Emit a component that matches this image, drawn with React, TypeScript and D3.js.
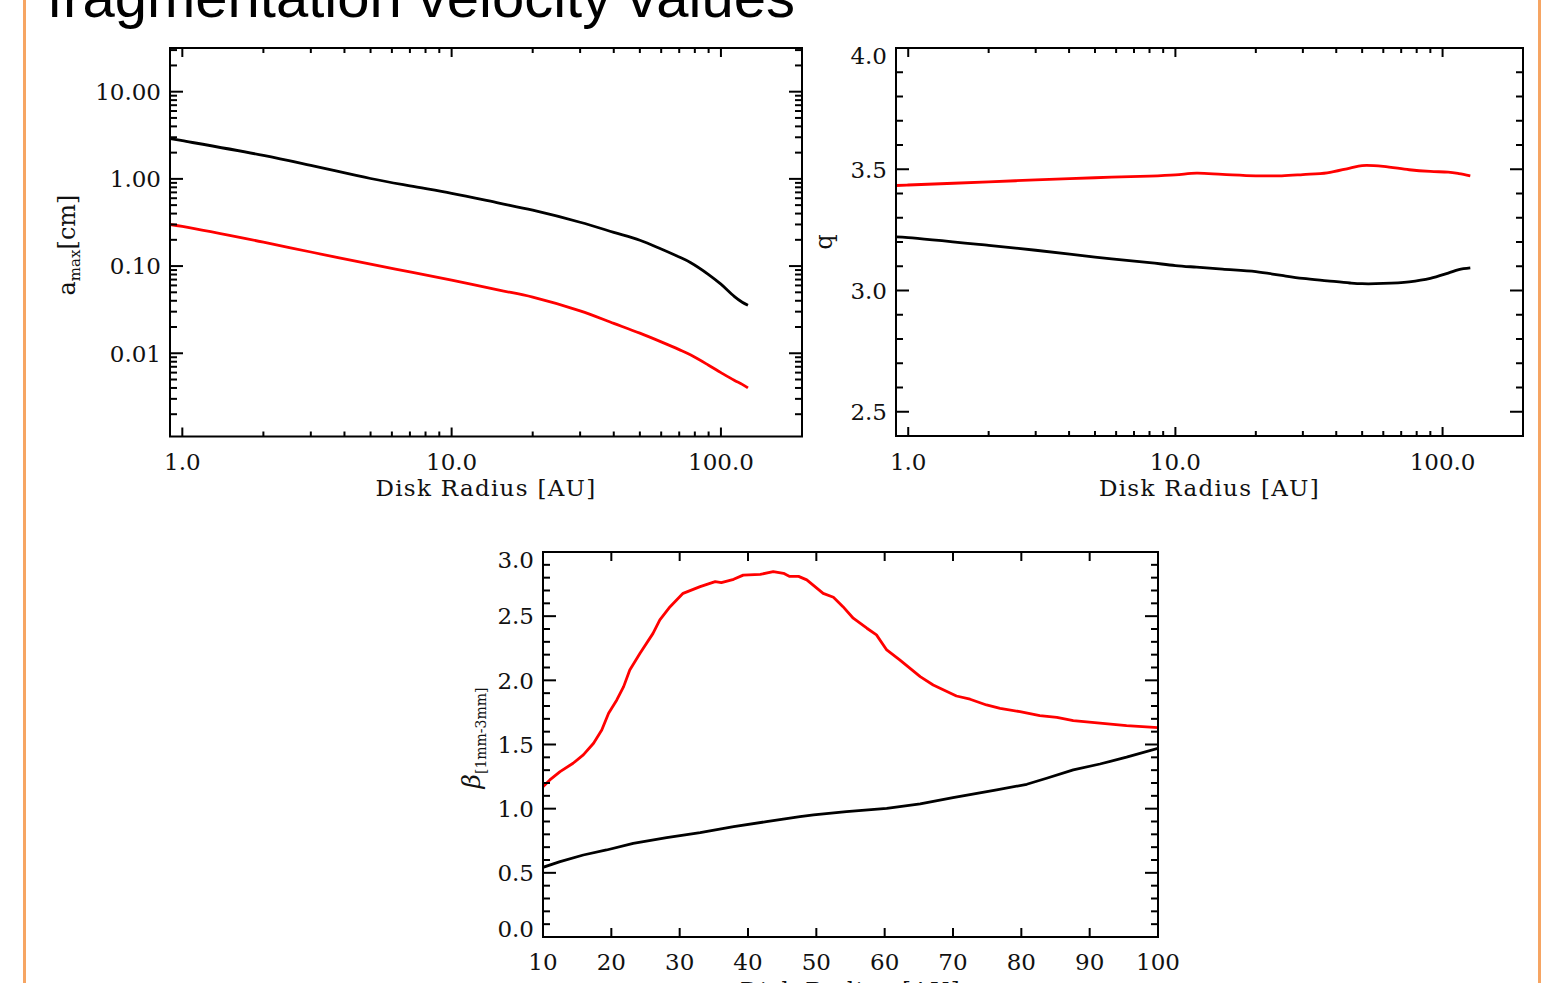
import React from 'react';
import * as d3 from 'd3';

const W = 1544;
const H = 983;

const TITLE = 'fragmentation velocity values';
const X_TITLE = 'Disk Radius [AU]';

// Panel 1: a_max vs radius (log-log)
const amaxRadius = [0.9, 1, 2, 3, 5, 7, 10, 15, 20, 30, 40, 50, 60, 70, 77, 90, 100, 112, 120, 126];
const amaxBlack = [2.9, 2.74, 1.86, 1.43, 1.01, 0.83, 0.683, 0.527, 0.437, 0.318, 0.244, 0.198, 0.157, 0.127, 0.11, 0.08, 0.062, 0.045, 0.0385, 0.0355];
const amaxRed = [0.3, 0.285, 0.188, 0.145, 0.105, 0.0857, 0.069, 0.053, 0.044, 0.0306, 0.022, 0.017, 0.0135, 0.011, 0.0096, 0.0073, 0.006, 0.0049, 0.0044, 0.004];
const amaxTicks = [0.01, 0.1, 1, 10];
const amaxTickLabels = ['0.01', '0.10', '1.00', '10.00'];

const logRadiusTicks = [1, 10, 100];
const logRadiusLabels = ['1.0', '10.0', '100.0'];

// Panel 2: q vs radius
const qRadius = [0.9, 1, 2, 3, 5, 8, 10, 12, 15, 20, 25, 30, 37, 45, 50, 60, 75, 90, 105, 115, 127];
const qRed = [3.433, 3.435, 3.448, 3.456, 3.465, 3.472, 3.477, 3.484, 3.479, 3.473, 3.473, 3.478, 3.485, 3.505, 3.515, 3.512, 3.498, 3.491, 3.488, 3.482, 3.473];
const qBlack = [3.221, 3.218, 3.186, 3.166, 3.138, 3.115, 3.103, 3.096, 3.088, 3.078, 3.062, 3.05, 3.04, 3.031, 3.028, 3.029, 3.036, 3.05, 3.072, 3.086, 3.093];
const qTicks = [2.5, 3.0, 3.5, 4.0];
const qTickLabels = ['2.5', '3.0', '3.5', '4.0'];

// Panel 3: beta vs radius (linear)
const betaRadiusRed = [10.0, 11.0, 12.5, 14.4, 15.9, 17.4, 18.6, 19.6, 20.8, 21.8, 22.7, 24.2, 26.1, 27.1, 28.6, 30.5, 33.0, 35.2, 36.1, 37.9, 39.3, 41.8, 43.7, 45.2, 46.1, 47.4, 48.6, 51.0, 52.5, 53.9, 55.4, 57.4, 58.8, 60.3, 62.2, 65.2, 67.1, 70.5, 72.5, 74.9, 76.9, 79.8, 82.7, 85.2, 87.6, 91.5, 95.4, 100];
const betaRed = [1.171, 1.224, 1.289, 1.354, 1.419, 1.51, 1.613, 1.744, 1.847, 1.951, 2.081, 2.211, 2.366, 2.471, 2.574, 2.678, 2.73, 2.769, 2.761, 2.787, 2.82, 2.826, 2.847, 2.834, 2.81, 2.81, 2.783, 2.678, 2.647, 2.574, 2.484, 2.406, 2.354, 2.237, 2.159, 2.029, 1.964, 1.878, 1.853, 1.808, 1.782, 1.756, 1.725, 1.712, 1.686, 1.666, 1.647, 1.631];
const betaRadiusBlack = [10, 12.5, 15.9, 19.3, 23.2, 28.1, 33.0, 37.9, 42.7, 47.6, 49.6, 54.4, 60.3, 65.2, 70.0, 76.4, 80.8, 83.7, 87.6, 91.5, 95.4, 100];
const betaBlack = [0.543, 0.587, 0.639, 0.678, 0.73, 0.774, 0.813, 0.86, 0.899, 0.938, 0.951, 0.977, 1.003, 1.037, 1.086, 1.146, 1.19, 1.237, 1.302, 1.348, 1.401, 1.471];
const betaTicks = [0, 0.5, 1, 1.5, 2, 2.5, 3];
const betaTickLabels = ['0.0', '0.5', '1.0', '1.5', '2.0', '2.5', '3.0'];
const betaXTicks = [10, 20, 30, 40, 50, 60, 70, 80, 90, 100];
const betaXLabels = ['10', '20', '30', '40', '50', '60', '70', '80', '90', '100'];

const LABEL_FONT = '"DejaVu Serif", serif';
const LABEL_SIZE = 23;

type Box = { x0: number; x1: number; y0: number; y1: number };

function logMinor(domain: [number, number]) {
  const out: number[] = [];
  for (let e = -4; e <= 3; e++) {
    for (let k = 2; k <= 9; k++) {
      const v = k * Math.pow(10, e);
      if (v > domain[0] * 1.0001 && v < domain[1] * 0.9999) out.push(v);
    }
  }
  return out;
}

function linMinor(domain: [number, number], step: number, majorStep: number) {
  const out: number[] = [];
  const n0 = Math.ceil(domain[0] / step - 1e-6);
  const n1 = Math.floor(domain[1] / step + 1e-6);
  for (let i = n0; i <= n1; i++) {
    const v = i * step;
    const r = v / majorStep;
    if (Math.abs(r - Math.round(r)) > 1e-6) out.push(v);
  }
  return out;
}

function Panel(props: {
  box: Box;
  x: any;
  y: any;
  xMajor: number[];
  xLabels: string[];
  xMinor: number[];
  yMajor: number[];
  yLabels: string[];
  yMinor: number[];
  series: { xs: number[]; ys: number[]; color: string; curve: any }[];
  xLabelY: number;
  xTitleY: number;
  tl: { xMaj: number; xMin: number; yMaj: number; yMin: number };
}) {
  const { box, x, y, tl } = props;
  const ticks: React.ReactNode[] = [];
  const tk = (k: string, x1: number, y1: number, x2: number, y2: number) => (
    <line key={k} x1={x1} y1={y1} x2={x2} y2={y2} stroke="#000" strokeWidth={2} />
  );
  props.xMajor.forEach((v, i) => {
    const px = x(v);
    ticks.push(tk('xb' + i, px, box.y1, px, box.y1 - tl.xMaj));
    ticks.push(tk('xt' + i, px, box.y0, px, box.y0 + tl.xMaj));
  });
  props.xMinor.forEach((v, i) => {
    const px = x(v);
    ticks.push(tk('xmb' + i, px, box.y1, px, box.y1 - tl.xMin));
    ticks.push(tk('xmt' + i, px, box.y0, px, box.y0 + tl.xMin));
  });
  props.yMajor.forEach((v, i) => {
    const py = y(v);
    ticks.push(tk('yl' + i, box.x0, py, box.x0 + tl.yMaj, py));
    ticks.push(tk('yr' + i, box.x1, py, box.x1 - tl.yMaj, py));
  });
  props.yMinor.forEach((v, i) => {
    const py = y(v);
    ticks.push(tk('yml' + i, box.x0, py, box.x0 + tl.yMin, py));
    ticks.push(tk('ymr' + i, box.x1, py, box.x1 - tl.yMin, py));
  });
  return (
    <g>
      <defs>
        <clipPath id={'clip' + box.x0}>
          <rect x={box.x0} y={box.y0} width={box.x1 - box.x0} height={box.y1 - box.y0} />
        </clipPath>
      </defs>
      <g clipPath={`url(#clip${box.x0})`}>
        {props.series.map((s, i) => {
          const pts = s.xs.map((xv, j) => [x(xv), y(s.ys[j])] as [number, number]);
          const path = d3.line().curve(s.curve)(pts) || '';
          return <path key={i} d={path} fill="none" stroke={s.color} strokeWidth={2.8} strokeLinejoin="round" />;
        })}
      </g>
      {ticks}
      <rect x={box.x0} y={box.y0} width={box.x1 - box.x0} height={box.y1 - box.y0} fill="none" stroke="#000" strokeWidth={2} />
      {props.xMajor.map((v, i) =>
        props.xLabels[i] ? (
          <text key={'xl' + i} x={x(v)} y={props.xLabelY} textAnchor="middle" fontFamily={LABEL_FONT} fontSize={LABEL_SIZE} fill="#111">
            {props.xLabels[i]}
          </text>
        ) : null
      )}
      {props.yMajor.map((v, i) => {
        const py = Math.max(box.y0 + 8, Math.min(box.y1 - 8, y(v)));
        return (
          <text key={'ylb' + i} x={box.x0 - 9} y={py} dy="0.36em" textAnchor="end" fontFamily={LABEL_FONT} fontSize={LABEL_SIZE} fill="#111">
            {props.yLabels[i]}
          </text>
        );
      })}
      <text x={(box.x0 + box.x1) / 2} y={props.xTitleY} textAnchor="middle" fontFamily={LABEL_FONT} fontSize={LABEL_SIZE} letterSpacing={1.3} fill="#111">
        {X_TITLE}
      </text>
    </g>
  );
}

export default function App() {
  const b1: Box = { x0: 170, x1: 802, y0: 48, y1: 436.5 };
  const b2: Box = { x0: 896, x1: 1523, y0: 48, y1: 436 };
  const b3: Box = { x0: 543, x1: 1158, y0: 552, y1: 937 };

  const xDom: [number, number] = [0.9, 200];
  const x1 = d3.scaleLog().domain(xDom).range([b1.x0, b1.x1]);
  const y1Dom: [number, number] = [0.00111, 31.7];
  const y1 = d3.scaleLog().domain(y1Dom).range([b1.y1, b1.y0]);
  const x2 = d3.scaleLog().domain(xDom).range([b2.x0, b2.x1]);
  const y2Dom: [number, number] = [2.4, 4.0];
  const y2 = d3.scaleLinear().domain(y2Dom).range([b2.y1, b2.y0]);
  const x3 = d3.scaleLinear().domain([10, 100]).range([b3.x0, b3.x1]);
  const y3Dom: [number, number] = [0, 3];
  const y3 = d3.scaleLinear().domain(y3Dom).range([b3.y1, b3.y0]);

  const xMinorLog = logMinor(xDom);

  return (
    <svg width={W} height={H} style={{ position: 'absolute', left: 0, top: 0, background: '#fff' }} viewBox={`0 0 ${W} ${H}`}>
      <rect x={0} y={0} width={W} height={H} fill="#fff" />
      <line x1={24.5} y1={0} x2={24.5} y2={H} stroke="#f6a563" strokeWidth={3} />
      <line x1={1539.5} y1={0} x2={1539.5} y2={H} stroke="#f6a563" strokeWidth={3} />
      <text x={47} y={17} fontFamily='"Liberation Sans", Arial, sans-serif' fontSize={58} fill="#000">
        {TITLE}
      </text>

      <Panel
        box={b1}
        x={x1}
        y={y1}
        xMajor={logRadiusTicks}
        xLabels={logRadiusLabels}
        xMinor={xMinorLog}
        yMajor={amaxTicks}
        yLabels={amaxTickLabels}
        yMinor={logMinor(y1Dom)}
        series={[
          { xs: amaxRadius, ys: amaxBlack, color: '#000', curve: d3.curveCatmullRom },
          { xs: amaxRadius, ys: amaxRed, color: '#ff0000', curve: d3.curveCatmullRom },
        ]}
        xLabelY={470}
        xTitleY={496}
        tl={{ xMaj: 9, xMin: 5, yMaj: 13, yMin: 7 }}
      />
      <text transform="translate(75,245) rotate(-90)" textAnchor="middle" fontFamily={LABEL_FONT} fontSize={24} fill="#111">
        a<tspan fontSize={15} dy={5}>max</tspan>
        <tspan dy={-5}>[cm]</tspan>
      </text>

      <Panel
        box={b2}
        x={x2}
        y={y2}
        xMajor={logRadiusTicks}
        xLabels={logRadiusLabels}
        xMinor={xMinorLog}
        yMajor={qTicks}
        yLabels={qTickLabels}
        yMinor={linMinor(y2Dom, 0.1, 0.5)}
        series={[
          { xs: qRadius, ys: qRed, color: '#ff0000', curve: d3.curveCatmullRom },
          { xs: qRadius, ys: qBlack, color: '#000', curve: d3.curveCatmullRom },
        ]}
        xLabelY={470}
        xTitleY={496}
        tl={{ xMaj: 9, xMin: 5, yMaj: 13, yMin: 7 }}
      />
      <text transform="translate(832,242) rotate(-90)" textAnchor="middle" fontFamily={LABEL_FONT} fontSize={24} fill="#111">
        q
      </text>

      <Panel
        box={b3}
        x={x3}
        y={y3}
        xMajor={betaXTicks}
        xLabels={betaXLabels}
        xMinor={[]}
        yMajor={betaTicks}
        yLabels={betaTickLabels}
        yMinor={linMinor(y3Dom, 0.1, 0.5)}
        series={[
          { xs: betaRadiusRed, ys: betaRed, color: '#ff0000', curve: d3.curveLinear },
          { xs: betaRadiusBlack, ys: betaBlack, color: '#000', curve: d3.curveLinear },
        ]}
        xLabelY={970}
        xTitleY={998}
        tl={{ xMaj: 9, xMin: 5, yMaj: 13, yMin: 7 }}
      />
      <text transform="translate(480,738) rotate(-90)" textAnchor="middle" fontFamily={LABEL_FONT} fontSize={25} fill="#111">
        <tspan fontStyle="italic">β</tspan>
        <tspan fontSize={14} dy={6}>[1mm-3mm]</tspan>
      </text>
    </svg>
  );
}
